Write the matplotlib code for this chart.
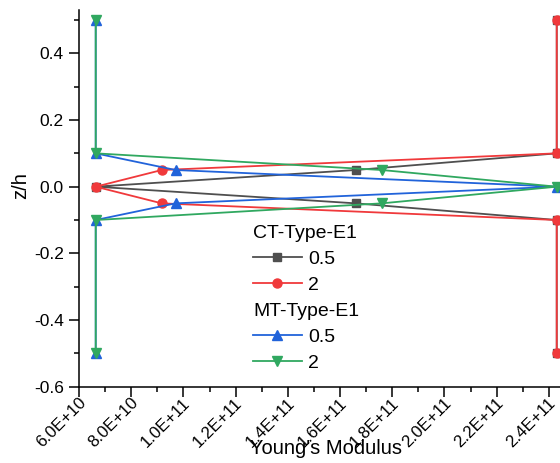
import matplotlib
matplotlib.use("Agg")
import matplotlib.pyplot as plt
import matplotlib.transforms as mtransforms
from matplotlib.ticker import MultipleLocator, FuncFormatter

plt.rcParams['font.family'] = ['Liberation Sans', 'DejaVu Sans']
plt.rcParams['axes.unicode_minus'] = False

# through-thickness positions
z_h = [0.5, 0.1, 0.05, 0.0, -0.05, -0.1, -0.5]

# Young's modulus profiles
ct_e1_05 = [2.43e11, 2.43e11, 1.66e11, 6.64e10, 1.66e11, 2.43e11, 2.43e11]
ct_e1_2 = [2.43e11, 2.43e11, 9.17e10, 6.64e10, 9.17e10, 2.43e11, 2.43e11]
mt_e1_05 = [6.64e10, 6.64e10, 9.7e10, 2.43e11, 9.7e10, 6.64e10, 6.64e10]
mt_e1_2 = [6.64e10, 6.64e10, 1.76e11, 2.43e11, 1.76e11, 6.64e10, 6.64e10]

labels = ["0.5", "2"]
groups = ["CT-Type-E1", "MT-Type-E1"]

W, H = 560, 463
fig = plt.figure(figsize=(W / 100, H / 100), dpi=100)
ax = fig.add_axes([79 / W, 1 - 386.7 / H, 496 / W, 376.7 / H])

lw = 1.3
ms = 6.5
gray, red, blue, green = '#4f4f4f', '#f0393b', '#2163da', '#30a860'

l1, = ax.plot(ct_e1_05, z_h, color=gray, lw=lw, marker='s', ms=ms - 0.5, label=labels[0])
l2, = ax.plot(ct_e1_2, z_h, color=red, lw=lw, marker='o', ms=ms, label=labels[1])
l3, = ax.plot(mt_e1_05, z_h, color=blue, lw=lw, marker='^', ms=ms + 0.5, label=labels[0])
l4, = ax.plot(mt_e1_2, z_h, color=green, lw=lw, marker='v', ms=ms + 0.5, label=labels[1])

for l in (l1, l2, l3, l4):
    l.set_clip_on(False)

ax.set_xlim(6e10, 2.5e11)
ax.set_ylim(-0.6, 0.53)

ax.xaxis.set_major_locator(MultipleLocator(2e10))
ax.xaxis.set_minor_locator(MultipleLocator(1e10))
ax.yaxis.set_major_locator(MultipleLocator(0.2))
ax.yaxis.set_minor_locator(MultipleLocator(0.1))
ax.xaxis.set_major_formatter(FuncFormatter(lambda v, p: f"{v:.1E}"))
ax.yaxis.set_major_formatter(FuncFormatter(lambda v, p: f"{v:.1f}"))

for s in ('top', 'right'):
    ax.spines[s].set_visible(False)
for s in ('left', 'bottom'):
    ax.spines[s].set_linewidth(1.1)

ax.tick_params(which='major', direction='out', length=7, width=1.1, labelsize=12.5)
ax.tick_params(axis='x', which='major', labelsize=12.2)
ax.tick_params(which='minor', direction='out', length=3.5, width=1.1)
ax.tick_params(axis='x', which='major', pad=2)
ax.tick_params(axis='y', which='major', pad=4)

# rotated tick labels, lifted slightly towards the axis line
shift = mtransforms.ScaledTranslation(-1 / 100, 4 / 100, fig.dpi_scale_trans)
for t in ax.get_xticklabels():
    t.set_rotation(45)
    t.set_ha('right')
    t.set_va('top')
    t.set_rotation_mode('anchor')
    t.set_transform(t.get_transform() + shift)

fig.text(326 / W, 1 - 448 / H, "Young's Modulus", ha='center', va='center', fontsize=14.5)
fig.text(21 / W, 1 - 186 / H, "z/h", ha='center', va='center', rotation=90, fontsize=14.5)

leg_kw = dict(frameon=False, borderpad=0, borderaxespad=0, labelspacing=0.42,
              handlelength=2.5, handletextpad=0.35, fontsize=14, title_fontsize=14,
              alignment='left', loc='upper left', bbox_transform=fig.transFigure)
leg1 = ax.legend([l1, l2], labels, title=groups[0],
                 bbox_to_anchor=(253 / W, 1 - 225 / H), **leg_kw)
ax.add_artist(leg1)
leg2 = ax.legend([l3, l4], labels, title=groups[1],
                 bbox_to_anchor=(253 / W, 1 - 303 / H), **leg_kw)

fig.savefig("out.png", dpi=100)
